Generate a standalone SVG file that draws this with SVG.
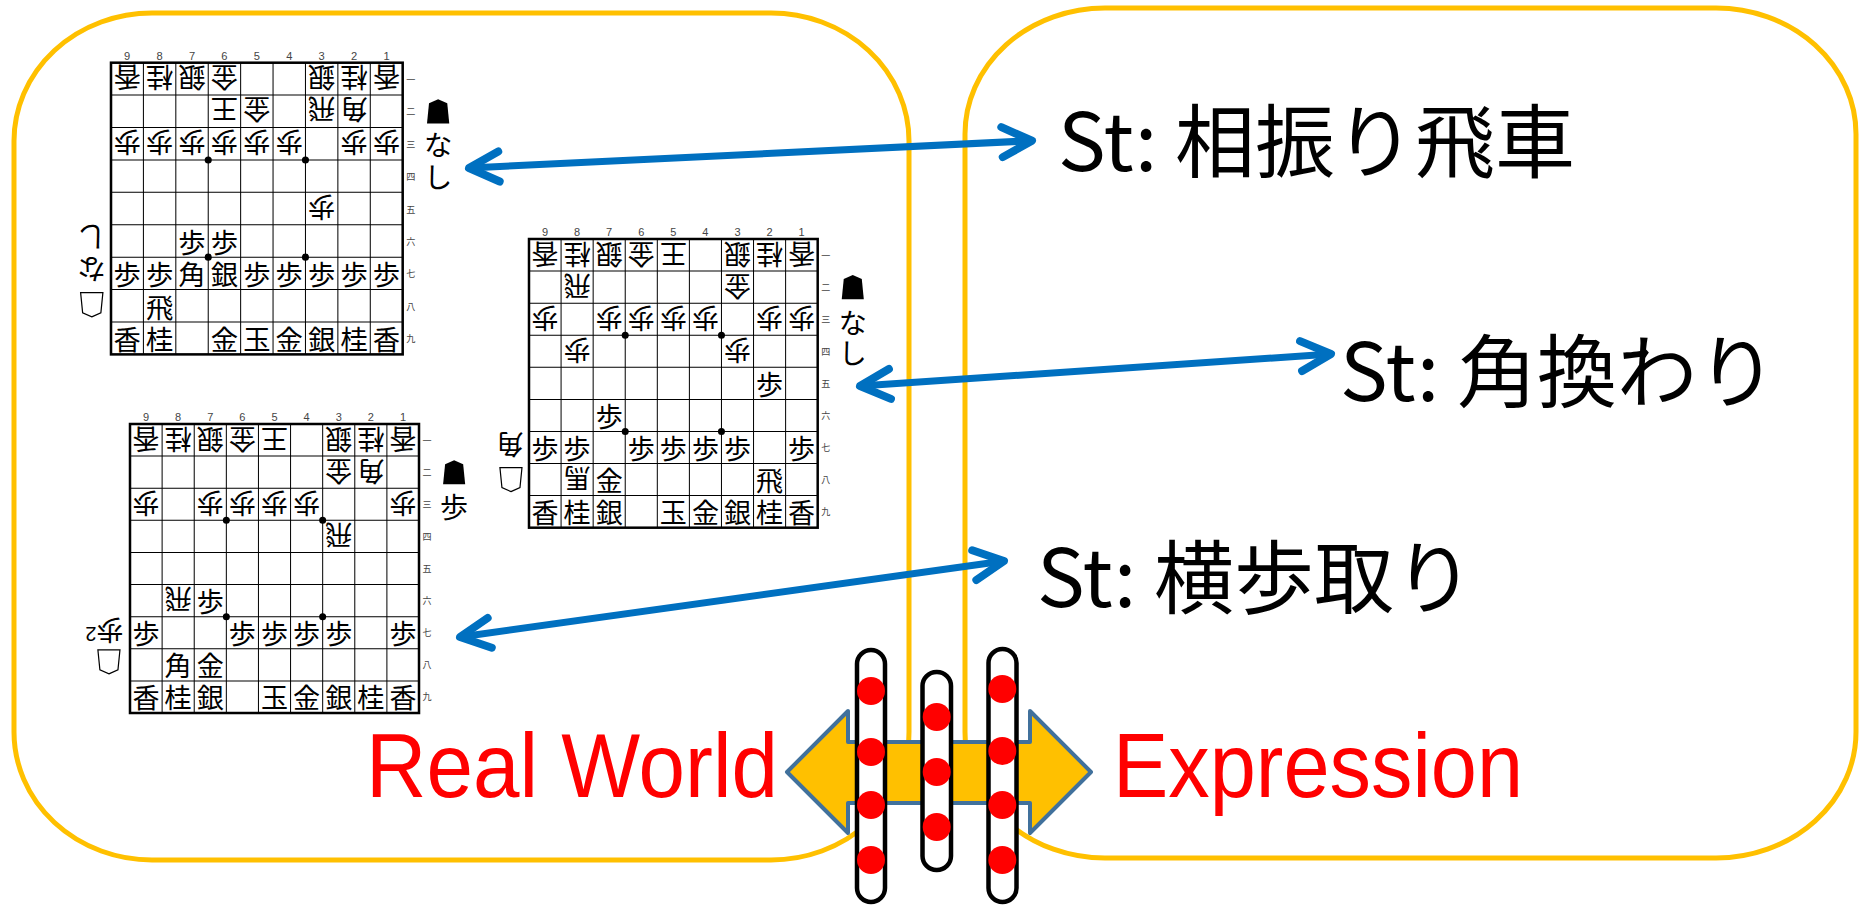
<svg xmlns="http://www.w3.org/2000/svg" xmlns:xlink="http://www.w3.org/1999/xlink" width="1863" height="906" viewBox="0 0 1863 906">
<style>
.box{fill:none;stroke:#FFC000;stroke-width:5}
.p{font-family:"Noto Sans CJK JP","Noto Sans CJK SC",sans-serif;font-size:27px;text-anchor:middle;dominant-baseline:central;fill:#000}
.h{font-family:"Noto Sans CJK JP","Noto Sans CJK SC",sans-serif;font-size:28px;text-anchor:middle;dominant-baseline:central;fill:#000}
.cn{font-family:"Liberation Sans",sans-serif;font-size:11px;text-anchor:middle;fill:#444}
.rn{font-family:"Noto Sans CJK JP","Noto Sans CJK SC",sans-serif;font-size:9px;text-anchor:middle;dominant-baseline:central;fill:#444}
.lbl{font-family:"Noto Sans CJK JP","Noto Sans CJK SC",sans-serif;font-size:80px;fill:#000}
.big{font-family:"Liberation Sans",sans-serif;font-size:90px;fill:#FF0000}
.conn{stroke:#0070C0;stroke-width:7;fill:none;marker-start:url(#chev);marker-end:url(#chev)}
.pill{fill:#fff;stroke:#000;stroke-width:4.5}
.dot{fill:#FF0000}
</style>
<defs>
<marker id="chev" markerUnits="userSpaceOnUse" viewBox="-40 -25 50 50" markerWidth="50" markerHeight="50" refX="0" refY="0" orient="auto-start-reverse" overflow="visible">
<path d="M-30,-15 L0,0 L-30,15" fill="none" stroke="#0070C0" stroke-width="8" stroke-linecap="round" stroke-linejoin="round"/>
</marker>
<path id="bp" d="M0,-12 L9,-8 L11,12 L-11,12 L-9,-8 Z" fill="#000"/>
<path id="wp" d="M0,12 L9,8 L11,-12 L-11,-12 L-9,8 Z" fill="#fff" stroke="#000" stroke-width="1.2"/>
<g id="grid">
<rect x="0" y="0" width="288" height="288" fill="#fff" stroke="#000" stroke-width="2.5"/>
<path d="M32 0V288M64 0V288M96 0V288M128 0V288M160 0V288M192 0V288M224 0V288M256 0V288M0 32H288M0 64H288M0 96H288M0 128H288M0 160H288M0 192H288M0 224H288M0 256H288" stroke="#000" stroke-width="1" fill="none"/>
<circle cx="96" cy="96" r="3.5"/><circle cx="192" cy="96" r="3.5"/><circle cx="96" cy="192" r="3.5"/><circle cx="192" cy="192" r="3.5"/>
<text class="cn" x="16" y="-3">9</text><text class="cn" x="48" y="-3">8</text><text class="cn" x="80" y="-3">7</text><text class="cn" x="112" y="-3">6</text><text class="cn" x="144" y="-3">5</text><text class="cn" x="176" y="-3">4</text><text class="cn" x="208" y="-3">3</text><text class="cn" x="240" y="-3">2</text><text class="cn" x="272" y="-3">1</text>
<text class="rn" x="296" y="16">一</text><text class="rn" x="296" y="48">二</text><text class="rn" x="296" y="80">三</text><text class="rn" x="296" y="112">四</text><text class="rn" x="296" y="144">五</text><text class="rn" x="296" y="176">六</text><text class="rn" x="296" y="208">七</text><text class="rn" x="296" y="240">八</text><text class="rn" x="296" y="272">九</text>
</g>
</defs>
<rect width="1863" height="906" fill="#fff"/>

<g id="realWorldBox">
<path class="box" d="M152,13 H771 A138,128 0 0 1 909,141 V732 A138,128 0 0 1 771,860 H152 A138,128 0 0 1 14,732 V141 A138,128 0 0 1 152,13 Z"/>
</g>
<g id="expressionBox">
<path class="box" d="M1105,8 H1716 A140,126 0 0 1 1856,134 V732 A140,126 0 0 1 1716,858 H1105 A140,126 0 0 1 965,732 V134 A140,126 0 0 1 1105,8 Z"/>
</g>

<g id="board1" transform="translate(111,62.7) scale(1.0128)">
<use xlink:href="#grid"/>
<g>
<text class="p" x="16" y="16" transform="rotate(180 16 16)">香</text>
<text class="p" x="48" y="16" transform="rotate(180 48 16)">桂</text>
<text class="p" x="80" y="16" transform="rotate(180 80 16)">銀</text>
<text class="p" x="112" y="16" transform="rotate(180 112 16)">金</text>
<text class="p" x="208" y="16" transform="rotate(180 208 16)">銀</text>
<text class="p" x="240" y="16" transform="rotate(180 240 16)">桂</text>
<text class="p" x="272" y="16" transform="rotate(180 272 16)">香</text>
<text class="p" x="112" y="48" transform="rotate(180 112 48)">王</text>
<text class="p" x="144" y="48" transform="rotate(180 144 48)">金</text>
<text class="p" x="208" y="48" transform="rotate(180 208 48)">飛</text>
<text class="p" x="240" y="48" transform="rotate(180 240 48)">角</text>
<text class="p" x="16" y="80" transform="rotate(180 16 80)">歩</text>
<text class="p" x="48" y="80" transform="rotate(180 48 80)">歩</text>
<text class="p" x="80" y="80" transform="rotate(180 80 80)">歩</text>
<text class="p" x="112" y="80" transform="rotate(180 112 80)">歩</text>
<text class="p" x="144" y="80" transform="rotate(180 144 80)">歩</text>
<text class="p" x="176" y="80" transform="rotate(180 176 80)">歩</text>
<text class="p" x="240" y="80" transform="rotate(180 240 80)">歩</text>
<text class="p" x="272" y="80" transform="rotate(180 272 80)">歩</text>
<text class="p" x="208" y="144" transform="rotate(180 208 144)">歩</text>
<text class="p" x="80" y="176">歩</text>
<text class="p" x="112" y="176">歩</text>
<text class="p" x="16" y="208">歩</text>
<text class="p" x="48" y="208">歩</text>
<text class="p" x="80" y="208">角</text>
<text class="p" x="112" y="208">銀</text>
<text class="p" x="144" y="208">歩</text>
<text class="p" x="176" y="208">歩</text>
<text class="p" x="208" y="208">歩</text>
<text class="p" x="240" y="208">歩</text>
<text class="p" x="272" y="208">歩</text>
<text class="p" x="48" y="240">飛</text>
<text class="p" x="16" y="272">香</text>
<text class="p" x="48" y="272">桂</text>
<text class="p" x="112" y="272">金</text>
<text class="p" x="144" y="272">玉</text>
<text class="p" x="176" y="272">金</text>
<text class="p" x="208" y="272">銀</text>
<text class="p" x="240" y="272">桂</text>
<text class="p" x="272" y="272">香</text>
</g>
<use xlink:href="#bp" x="323" y="48"/>
<text class="h" x="323" y="80">な</text>
<text class="h" x="323" y="111">し</text>
<use xlink:href="#wp" x="-19" y="239"/>
<text class="h" x="-19" y="205" transform="rotate(180 -19 205)">な</text>
<text class="h" x="-19" y="174" transform="rotate(180 -19 174)">し</text>
</g>

<g id="board2" transform="translate(529,239) scale(1.0024)">
<use xlink:href="#grid"/>
<g>
<text class="p" x="16" y="16" transform="rotate(180 16 16)">香</text>
<text class="p" x="48" y="16" transform="rotate(180 48 16)">桂</text>
<text class="p" x="80" y="16" transform="rotate(180 80 16)">銀</text>
<text class="p" x="112" y="16" transform="rotate(180 112 16)">金</text>
<text class="p" x="144" y="16" transform="rotate(180 144 16)">王</text>
<text class="p" x="208" y="16" transform="rotate(180 208 16)">銀</text>
<text class="p" x="240" y="16" transform="rotate(180 240 16)">桂</text>
<text class="p" x="272" y="16" transform="rotate(180 272 16)">香</text>
<text class="p" x="48" y="48" transform="rotate(180 48 48)">飛</text>
<text class="p" x="208" y="48" transform="rotate(180 208 48)">金</text>
<text class="p" x="16" y="80" transform="rotate(180 16 80)">歩</text>
<text class="p" x="80" y="80" transform="rotate(180 80 80)">歩</text>
<text class="p" x="112" y="80" transform="rotate(180 112 80)">歩</text>
<text class="p" x="144" y="80" transform="rotate(180 144 80)">歩</text>
<text class="p" x="176" y="80" transform="rotate(180 176 80)">歩</text>
<text class="p" x="240" y="80" transform="rotate(180 240 80)">歩</text>
<text class="p" x="272" y="80" transform="rotate(180 272 80)">歩</text>
<text class="p" x="48" y="112" transform="rotate(180 48 112)">歩</text>
<text class="p" x="208" y="112" transform="rotate(180 208 112)">歩</text>
<text class="p" x="240" y="144">歩</text>
<text class="p" x="80" y="176">歩</text>
<text class="p" x="16" y="208">歩</text>
<text class="p" x="48" y="208">歩</text>
<text class="p" x="112" y="208">歩</text>
<text class="p" x="144" y="208">歩</text>
<text class="p" x="176" y="208">歩</text>
<text class="p" x="208" y="208">歩</text>
<text class="p" x="272" y="208">歩</text>
<text class="p" x="48" y="240" transform="rotate(180 48 240)">馬</text>
<text class="p" x="80" y="240">金</text>
<text class="p" x="240" y="240">飛</text>
<text class="p" x="16" y="272">香</text>
<text class="p" x="48" y="272">桂</text>
<text class="p" x="80" y="272">銀</text>
<text class="p" x="144" y="272">玉</text>
<text class="p" x="176" y="272">金</text>
<text class="p" x="208" y="272">銀</text>
<text class="p" x="240" y="272">桂</text>
<text class="p" x="272" y="272">香</text>
</g>
<use xlink:href="#bp" x="323" y="48"/>
<text class="h" x="323" y="82">な</text>
<text class="h" x="323" y="112">し</text>
<use xlink:href="#wp" x="-18" y="240"/>
<text class="p" x="-19" y="206" transform="rotate(180 -19 206)">角</text>
</g>

<g id="board3" transform="translate(130,424) scale(1.0035)">
<use xlink:href="#grid"/>
<g>
<text class="p" x="16" y="16" transform="rotate(180 16 16)">香</text>
<text class="p" x="48" y="16" transform="rotate(180 48 16)">桂</text>
<text class="p" x="80" y="16" transform="rotate(180 80 16)">銀</text>
<text class="p" x="112" y="16" transform="rotate(180 112 16)">金</text>
<text class="p" x="144" y="16" transform="rotate(180 144 16)">王</text>
<text class="p" x="208" y="16" transform="rotate(180 208 16)">銀</text>
<text class="p" x="240" y="16" transform="rotate(180 240 16)">桂</text>
<text class="p" x="272" y="16" transform="rotate(180 272 16)">香</text>
<text class="p" x="208" y="48" transform="rotate(180 208 48)">金</text>
<text class="p" x="240" y="48" transform="rotate(180 240 48)">角</text>
<text class="p" x="16" y="80" transform="rotate(180 16 80)">歩</text>
<text class="p" x="80" y="80" transform="rotate(180 80 80)">歩</text>
<text class="p" x="112" y="80" transform="rotate(180 112 80)">歩</text>
<text class="p" x="144" y="80" transform="rotate(180 144 80)">歩</text>
<text class="p" x="176" y="80" transform="rotate(180 176 80)">歩</text>
<text class="p" x="272" y="80" transform="rotate(180 272 80)">歩</text>
<text class="p" x="208" y="112" transform="rotate(180 208 112)">飛</text>
<text class="p" x="48" y="176" transform="rotate(180 48 176)">飛</text>
<text class="p" x="80" y="176">歩</text>
<text class="p" x="16" y="208">歩</text>
<text class="p" x="112" y="208">歩</text>
<text class="p" x="144" y="208">歩</text>
<text class="p" x="176" y="208">歩</text>
<text class="p" x="208" y="208">歩</text>
<text class="p" x="272" y="208">歩</text>
<text class="p" x="48" y="240">角</text>
<text class="p" x="80" y="240">金</text>
<text class="p" x="16" y="272">香</text>
<text class="p" x="48" y="272">桂</text>
<text class="p" x="80" y="272">銀</text>
<text class="p" x="144" y="272">玉</text>
<text class="p" x="176" y="272">金</text>
<text class="p" x="208" y="272">銀</text>
<text class="p" x="240" y="272">桂</text>
<text class="p" x="272" y="272">香</text>
</g>
<use xlink:href="#bp" x="323" y="48"/>
<text class="p" x="323" y="81" style="font-size:28px">歩</text>
<use xlink:href="#wp" x="-21" y="237"/>
<text class="p" x="-20" y="207" transform="rotate(180 -20 207)">歩</text>
<text class="cn" x="-39" y="209" style="font-size:20px;dominant-baseline:central;fill:#000" transform="rotate(180 -39 209)">2</text>
</g>

<g id="connectors">
<line class="conn" x1="469" y1="168" x2="1032" y2="140.7"/>
<line class="conn" x1="860" y1="386" x2="1331" y2="354"/>
<line class="conn" x1="460" y1="637" x2="1004" y2="561"/>
</g>

<g id="label1"><text class="lbl" x="1058" y="171">St: 相振り飛車</text></g>
<g id="label2"><text class="lbl" x="1340" y="401">St: 角換わり</text></g>
<g id="label3"><text class="lbl" x="1037" y="607">St: 横歩取り</text></g>

<g id="realWorld"><text class="big" x="366" y="797" textLength="412" lengthAdjust="spacingAndGlyphs">Real World</text></g>
<g id="expression"><text class="big" x="1113" y="797" textLength="410" lengthAdjust="spacingAndGlyphs">Expression</text></g>

<g id="bidiArrow">
<polygon points="787,772 848,711 848,742 1030,742 1030,711 1091,772 1030,833 1030,803 848,803 848,833" fill="#FFC000" stroke="#41719C" stroke-width="4" stroke-linejoin="round"/>
</g>

<g id="pill1">
<rect class="pill" x="857" y="650" width="28" height="252" rx="14"/>
<circle class="dot" cx="871" cy="691" r="14"/><circle class="dot" cx="871" cy="752" r="14"/><circle class="dot" cx="871" cy="805" r="14"/><circle class="dot" cx="871" cy="860" r="14"/>
</g>
<g id="pill2">
<rect class="pill" x="922.5" y="672" width="28.5" height="198" rx="14"/>
<circle class="dot" cx="936.7" cy="717" r="14"/><circle class="dot" cx="936.7" cy="772" r="14"/><circle class="dot" cx="936.7" cy="827" r="14"/>
</g>
<g id="pill3">
<rect class="pill" x="988.5" y="649" width="28" height="253" rx="14"/>
<circle class="dot" cx="1002.3" cy="689" r="14"/><circle class="dot" cx="1002.3" cy="751" r="14"/><circle class="dot" cx="1002.3" cy="805" r="14"/><circle class="dot" cx="1002.3" cy="860" r="14"/>
</g>
</svg>
